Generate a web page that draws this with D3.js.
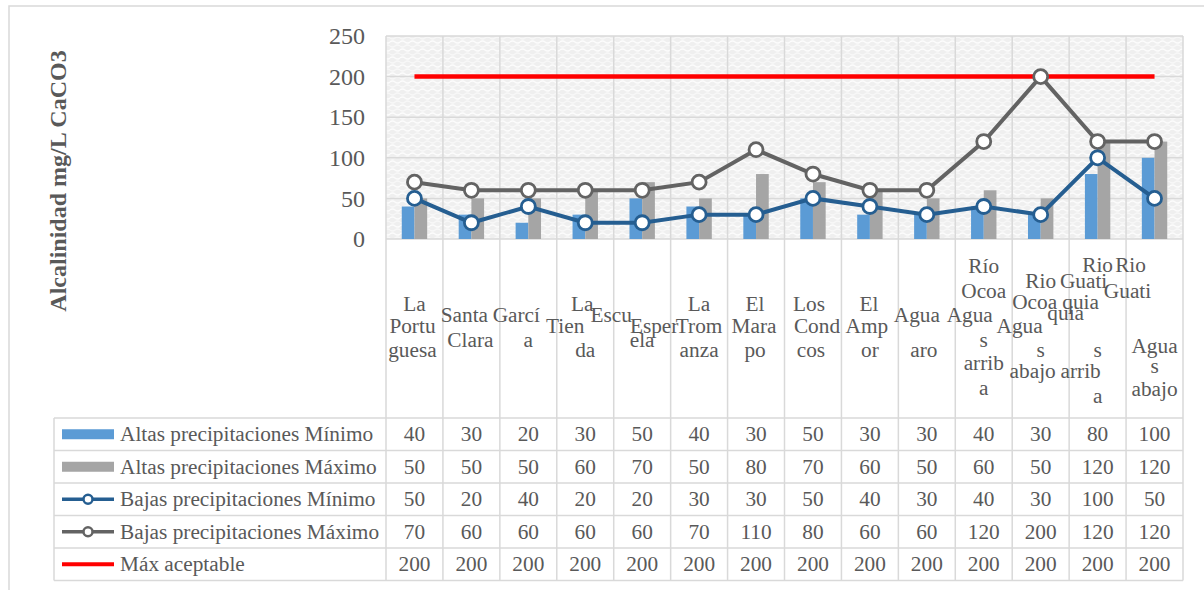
<!DOCTYPE html>
<html>
<head>
<meta charset="utf-8">
<script src="https://cdn.jsdelivr.net/npm/d3@7"></script>
<style>
  body { margin: 0; background: #fff; }
  svg { display: block; font-family: "Liberation Serif", "Times New Roman", serif; }
</style>
</head>
<body>
<div id="chart"></div>
<script>
// sampling points
const categories = ["La Portuguesa", "Santa Clara", "García", "La Tienda", "Escuela", "La Tromanza",
  "El Marapo", "Los Condcos", "El Ampor", "Agua aro", "Río Ocoa Aguas arriba",
  "Rio Ocoa Aguas abajo", "Rio Guatiquia Aguas arriba", "Rio Guatiquia Aguas abajo"];

// wrapped tick labels, as they appear under each column
const catLines = [
  ["La", "Portu", "guesa"],
  ["Santa", "Clara"],
  ["Garcí", "a"],
  ["La", "Tien", "da"],
  ["Escu", "ela", "Esper"],
  ["La", "Trom", "anza"],
  ["El", "Mara", "po"],
  ["Los", "Cond", "cos"],
  ["El", "Amp", "or"],
  ["Agua", "aro"],
  ["Río", "Ocoa", "Agua", "s", "arrib", "a"],
  ["Rio", "Ocoa", "quia", "Agua", "s", "abajo"],
  ["Rio", "Guati", "quia", "s", "arrib", "a"],
  ["Rio", "Guati", "Agua", "s", "abajo"]
];

const altasMin = [40, 30, 20, 30, 50, 40, 30, 50, 30, 30, 40, 30, 80, 100];
const altasMax = [50, 50, 50, 60, 70, 50, 80, 70, 60, 50, 60, 50, 120, 120];
const bajasMin = [50, 20, 40, 20, 20, 30, 30, 50, 40, 30, 40, 30, 100, 50];
const bajasMax = [70, 60, 60, 60, 60, 70, 110, 80, 60, 60, 120, 200, 120, 120];
const maxAceptable = [200, 200, 200, 200, 200, 200, 200, 200, 200, 200, 200, 200, 200, 200];

const yTicks = [0, 50, 100, 150, 200, 250];

// label placement (offset from column centre, baseline)
const catLineLayout = [
  [[0, 311], [-2, 333], [-2, 357]],
  [[-7, 322], [-1, 347]],
  [[-12, 322], [0, 347]],
  [[-3, 311], [-20, 333], [0, 357]],
  [[-31, 322], [0, 347], [12, 333]],
  [[0, 311], [0, 333], [0, 357]],
  [[-1, 311], [-2, 333], [-1, 357]],
  [[-4, 311], [4, 333], [-2, 357]],
  [[-1, 311], [-3, 333], [0, 357]],
  [[-10, 322], [-3, 357]],
  [[0, 273], [0, 298], [-14, 322], [0, 347], [0, 370], [0, 395]],
  [[0, 288], [-6, 309], [25, 320], [-21, 333], [0, 357], [-8, 378]],
  [[0, 272], [-14, 288], [-17, 309], [0, 357], [-17, 378], [0, 403]],
  [[-24, 272], [-27, 298], [0, 353], [0, 373], [0, 396]]
];

const width = 1204, height = 590;
const plotL = 386, plotR = 1183, plotT = 36, plotB = 239;
const tableT = 418, rowH = 32.5, tableL = 54;
const textColor = "#595959", gridColor = "#d9d9d9";
const fs = "21.3px";

const svg = d3.select("#chart").append("svg")
  .attr("width", width)
  .attr("height", height);

// chart frame
svg.append("rect")
  .attr("x", 9).attr("y", 6)
  .attr("width", width).attr("height", height)
  .attr("fill", "none")
  .attr("stroke", gridColor)
  .attr("stroke-width", 1.5);

// textured plot background
const defs = svg.append("defs");
const pat = defs.append("pattern")
  .attr("id", "tex")
  .attr("patternUnits", "userSpaceOnUse")
  .attr("width", 10).attr("height", 8);
pat.append("rect").attr("width", 10).attr("height", 8).attr("fill", "#efefef");
pat.append("path").attr("d", "M0,2 Q2.5,0 5,2 T10,2")
  .attr("fill", "none").attr("stroke", "#fcfcfc").attr("stroke-width", 1.6);
pat.append("path").attr("d", "M0,6 Q2.5,8 5,6 T10,6")
  .attr("fill", "none").attr("stroke", "#f8f8f8").attr("stroke-width", 1.4);

const x = d3.scaleBand()
  .domain(d3.range(categories.length))
  .range([plotL, plotR]);
const bw = x.bandwidth();
const cx = i => x(i) + bw / 2;

const y = d3.scaleLinear()
  .domain([0, 250])
  .range([plotB, plotT]);

const xSub = d3.scaleBand()
  .domain([0, 1])
  .range([-12.7, 12.7]);

svg.append("rect")
  .attr("x", plotL).attr("y", plotT)
  .attr("width", plotR - plotL).attr("height", plotB - plotT)
  .attr("fill", "url(#tex)");

const tableB = tableT + rowH * 5;

// grid: horizontal value lines
svg.append("g").selectAll("line")
  .data(yTicks)
  .join("line")
  .attr("x1", plotL).attr("x2", plotR)
  .attr("y1", d => y(d)).attr("y2", d => y(d))
  .attr("stroke", gridColor).attr("stroke-width", 1.5);

// column boundaries run through plot, labels and table
svg.append("g").selectAll("line")
  .data(d3.range(categories.length + 1))
  .join("line")
  .attr("x1", i => i < categories.length ? x(i) : plotR)
  .attr("x2", i => i < categories.length ? x(i) : plotR)
  .attr("y1", plotT).attr("y2", tableB)
  .attr("stroke", gridColor).attr("stroke-width", 1.5);

// table rows
svg.append("g").selectAll("line")
  .data(d3.range(6))
  .join("line")
  .attr("x1", tableL).attr("x2", plotR)
  .attr("y1", i => tableT + i * rowH).attr("y2", i => tableT + i * rowH)
  .attr("stroke", gridColor).attr("stroke-width", 1.5);
svg.append("line")
  .attr("x1", tableL).attr("x2", tableL)
  .attr("y1", tableT).attr("y2", tableB)
  .attr("stroke", gridColor).attr("stroke-width", 1.5);

// y axis
const yAxis = svg.append("g")
  .attr("transform", `translate(${plotL},0)`)
  .call(d3.axisLeft(y).tickValues(yTicks).tickSize(0).tickPadding(21));
yAxis.select(".domain").remove();
yAxis.selectAll("text")
  .attr("fill", textColor)
  .style("font-size", "24px")
  .style("font-family", "Liberation Serif");

svg.append("text")
  .attr("transform", "translate(66,181) rotate(-90)")
  .attr("text-anchor", "middle")
  .attr("fill", textColor)
  .style("font-size", "24px")
  .style("font-weight", "bold")
  .text("Alcalinidad mg/L CaCO3");

// bars
const barSeries = [
  { values: altasMin, color: "#5b9bd5" },
  { values: altasMax, color: "#a5a5a5" }
];
barSeries.forEach((s, k) => {
  svg.append("g").selectAll("rect")
    .data(s.values)
    .join("rect")
    .attr("x", (d, i) => cx(i) + xSub(k))
    .attr("width", xSub.bandwidth())
    .attr("y", d => y(d))
    .attr("height", d => y(0) - y(d))
    .attr("fill", s.color);
});

// lines
const line = d3.line()
  .x((d, i) => cx(i))
  .y(d => y(d));

svg.append("path")
  .datum(maxAceptable)
  .attr("d", line)
  .attr("fill", "none")
  .attr("stroke", "#ff0000")
  .attr("stroke-width", 4.5);

const lineSeries = [
  { values: bajasMax, color: "#636363" },
  { values: bajasMin, color: "#255e91" }
];
lineSeries.forEach(s => {
  svg.append("path")
    .datum(s.values)
    .attr("d", line)
    .attr("fill", "none")
    .attr("stroke", s.color)
    .attr("stroke-width", 4);
  svg.append("g").selectAll("circle")
    .data(s.values)
    .join("circle")
    .attr("cx", (d, i) => cx(i))
    .attr("cy", d => y(d))
    .attr("r", 7)
    .attr("fill", "#fff")
    .attr("stroke", s.color)
    .attr("stroke-width", 2.8);
});

// category labels
catLines.forEach((lines, i) => {
  svg.append("g").selectAll("text")
    .data(lines)
    .join("text")
    .attr("x", (d, j) => cx(i) + catLineLayout[i][j][0])
    .attr("y", (d, j) => catLineLayout[i][j][1])
    .attr("text-anchor", "middle")
    .attr("fill", textColor)
    .style("font-size", fs)
    .text(d => d);
});

// data table
const tableRows = [
  { name: "Altas precipitaciones Mínimo", values: altasMin, color: "#5b9bd5", kind: "bar" },
  { name: "Altas precipitaciones Máximo", values: altasMax, color: "#a5a5a5", kind: "bar" },
  { name: "Bajas precipitaciones Mínimo", values: bajasMin, color: "#255e91", kind: "marker" },
  { name: "Bajas precipitaciones Máximo", values: bajasMax, color: "#636363", kind: "marker" },
  { name: "Máx aceptable", values: maxAceptable, color: "#ff0000", kind: "line" }
];

tableRows.forEach((r, k) => {
  const mid = tableT + rowH * k + rowH / 2;
  const g = svg.append("g");
  if (r.kind === "bar") {
    g.append("rect")
      .attr("x", 62).attr("y", mid - 5)
      .attr("width", 52).attr("height", 10)
      .attr("fill", r.color);
  } else {
    g.append("line")
      .attr("x1", 62).attr("x2", 114)
      .attr("y1", mid).attr("y2", mid)
      .attr("stroke", r.color)
      .attr("stroke-width", r.kind === "line" ? 4 : 3.5);
    if (r.kind === "marker") {
      g.append("circle")
        .attr("cx", 88).attr("cy", mid).attr("r", 4.5)
        .attr("fill", "#fff")
        .attr("stroke", r.color).attr("stroke-width", 2.5);
    }
  }
  g.append("text")
    .attr("x", 120).attr("y", mid + 7)
    .attr("fill", textColor)
    .style("font-size", fs)
    .text(r.name);
  g.selectAll(".val")
    .data(r.values)
    .join("text")
    .attr("class", "val")
    .attr("x", (d, i) => cx(i))
    .attr("y", mid + 7)
    .attr("text-anchor", "middle")
    .attr("fill", textColor)
    .style("font-size", fs)
    .text(d => d);
});
</script>
</body>
</html>
